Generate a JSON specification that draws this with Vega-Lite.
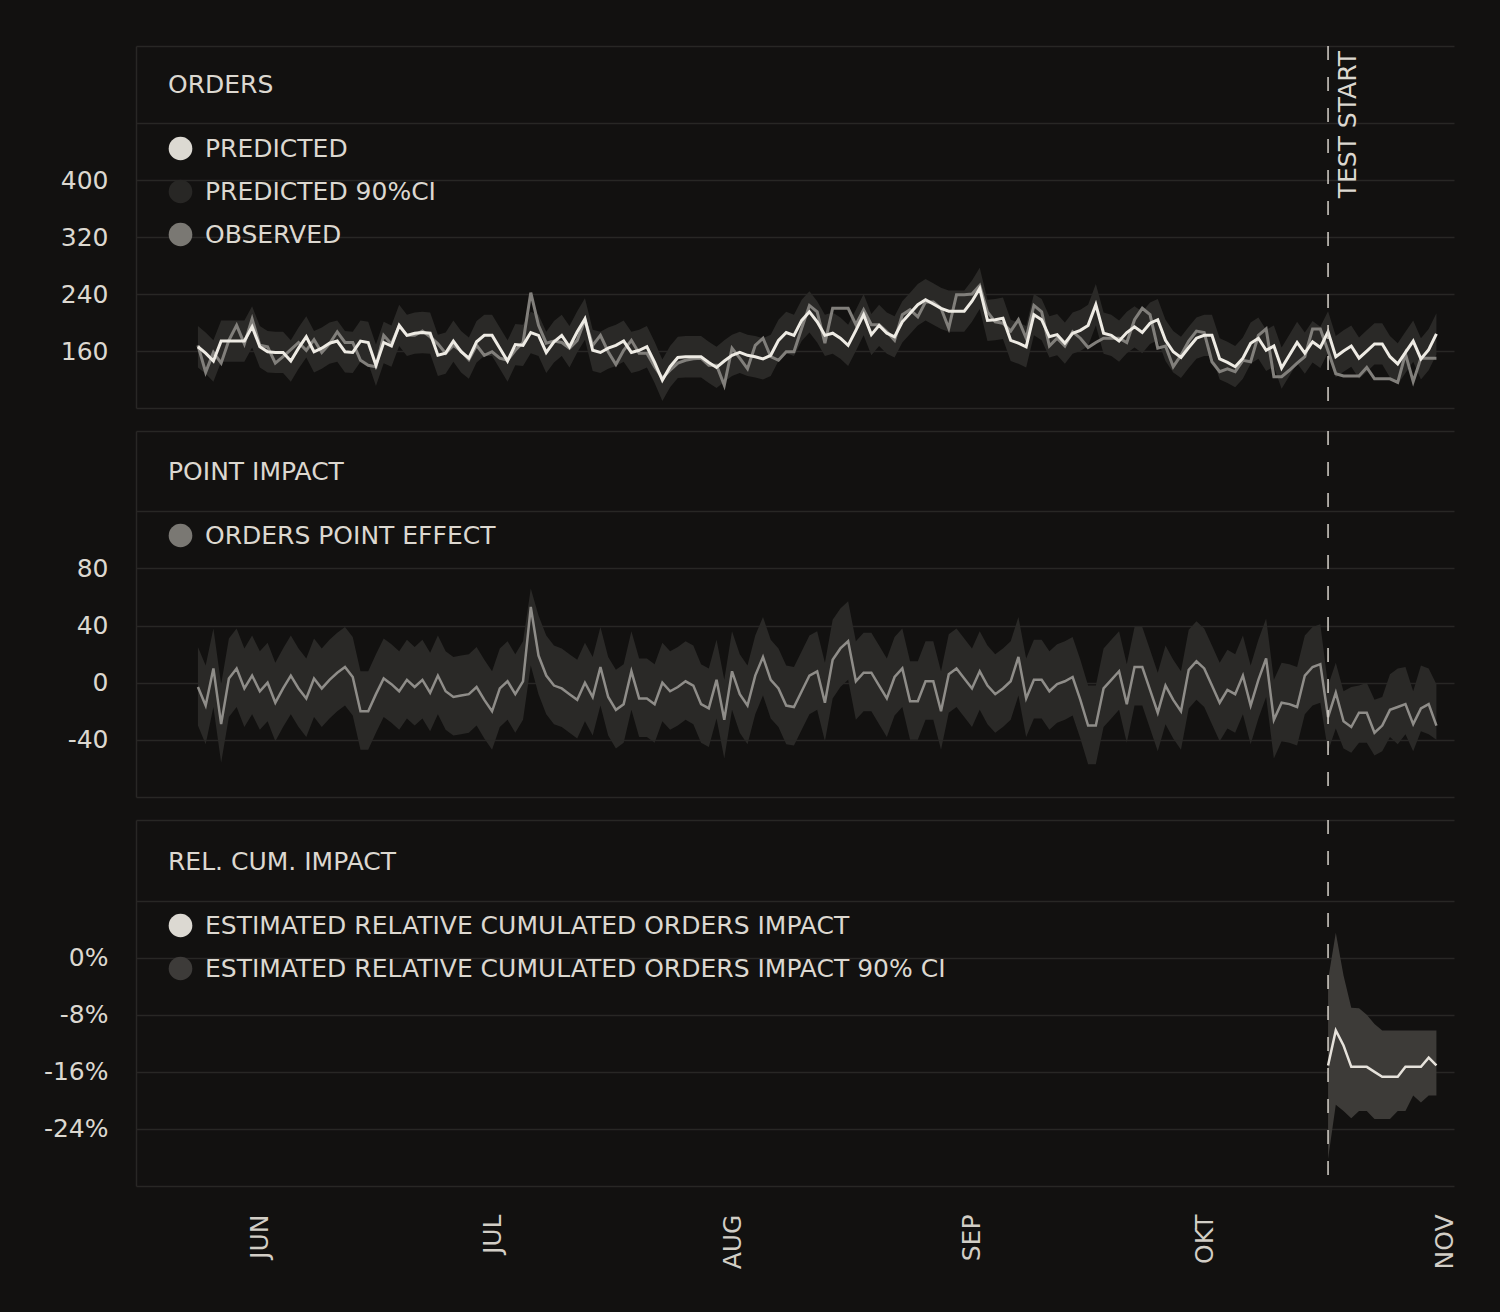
{
"$schema": "https://vega.github.io/schema/vega-lite/v6.json",
"background": "#121110",
"padding": {"top": 45, "left": 43, "right": 46, "bottom": 42},
"spacing": 21,
"config": {
 "view": {"stroke": null, "fill": "#151412"},
 "font": "DejaVu Sans",
 "axis": {"labelFont": "DejaVu Sans", "labelFontSize": 25, "labelColor": "#dcd8d0", "gridColor": "#282725", "gridWidth": 1.5, "domainColor": "#282725", "domainWidth": 1.5, "ticks": false},
 "legend": {"padding": 0, "titleFontSize": 25, "titleFontWeight": "normal", "titleColor": "#dcd8d0", "titleFont": "DejaVu Sans", "titlePadding": 38, "titleLimit": 1200, "labelFontSize": 25, "labelColor": "#dcd8d0", "labelFont": "DejaVu Sans", "labelLimit": 1300, "labelOffset": 12, "symbolType": "circle", "symbolSize": 560, "symbolStrokeWidth": 0, "rowPadding": 17}
},
"resolve": {"scale": {"color": "independent", "y": "independent"}, "legend": {"color": "independent"}},
"datasets": {
 "marker": [{"date": "2023-10-17", "label": "TEST START"}],
 "post": [
  {"date":"2023-10-17","rel":-15.1,"rlo":-28.2,"rhi":-3.1},
  {"date":"2023-10-18","rel":-10.2,"rlo":-20.6,"rhi":3.5},
  {"date":"2023-10-19","rel":-12.3,"rlo":-21.5,"rhi":-2.5},
  {"date":"2023-10-20","rel":-15.3,"rlo":-22.5,"rhi":-7.0},
  {"date":"2023-10-21","rel":-15.3,"rlo":-21.5,"rhi":-7.1},
  {"date":"2023-10-22","rel":-15.3,"rlo":-21.5,"rhi":-8.0},
  {"date":"2023-10-23","rel":-16.0,"rlo":-22.6,"rhi":-9.3},
  {"date":"2023-10-24","rel":-16.7,"rlo":-22.6,"rhi":-10.2},
  {"date":"2023-10-25","rel":-16.7,"rlo":-22.6,"rhi":-10.2},
  {"date":"2023-10-26","rel":-16.7,"rlo":-21.5,"rhi":-10.2},
  {"date":"2023-10-27","rel":-15.3,"rlo":-21.5,"rhi":-10.2},
  {"date":"2023-10-28","rel":-15.3,"rlo":-19.3,"rhi":-10.2},
  {"date":"2023-10-29","rel":-15.3,"rlo":-20.3,"rhi":-10.2},
  {"date":"2023-10-30","rel":-14.0,"rlo":-19.3,"rhi":-10.2},
  {"date":"2023-10-31","rel":-15.1,"rlo":-19.3,"rhi":-10.2}
 ],
 "main": [
  {"date":"2023-05-24","pred":166,"lo":137,"hi":195,"obs":168,"eff":-3,"elo":-30,"ehi":25},
  {"date":"2023-05-25","pred":157,"lo":128,"hi":186,"obs":130,"eff":-16,"elo":-43,"ehi":12},
  {"date":"2023-05-26","pred":146,"lo":117,"hi":175,"obs":158,"eff":10,"elo":-17,"ehi":38},
  {"date":"2023-05-27","pred":174,"lo":145,"hi":203,"obs":143,"eff":-29,"elo":-56,"ehi":-1},
  {"date":"2023-05-28","pred":174,"lo":145,"hi":203,"obs":175,"eff":3,"elo":-24,"ehi":31},
  {"date":"2023-05-29","pred":174,"lo":145,"hi":203,"obs":196,"eff":10,"elo":-17,"ehi":38},
  {"date":"2023-05-30","pred":174,"lo":145,"hi":203,"obs":170,"eff":-4,"elo":-31,"ehi":24},
  {"date":"2023-05-31","pred":194,"lo":165,"hi":223,"obs":205,"eff":5,"elo":-22,"ehi":33},
  {"date":"2023-06-01","pred":166,"lo":137,"hi":195,"obs":168,"eff":-6,"elo":-33,"ehi":22},
  {"date":"2023-06-02","pred":159,"lo":130,"hi":188,"obs":166,"eff":0,"elo":-27,"ehi":28},
  {"date":"2023-06-03","pred":158,"lo":129,"hi":187,"obs":143,"eff":-14,"elo":-41,"ehi":14},
  {"date":"2023-06-04","pred":158,"lo":129,"hi":187,"obs":152,"eff":-4,"elo":-31,"ehi":24},
  {"date":"2023-06-05","pred":146,"lo":117,"hi":175,"obs":162,"eff":5,"elo":-22,"ehi":33},
  {"date":"2023-06-06","pred":164,"lo":135,"hi":193,"obs":172,"eff":-4,"elo":-31,"ehi":24},
  {"date":"2023-06-07","pred":180,"lo":151,"hi":209,"obs":161,"eff":-11,"elo":-38,"ehi":17},
  {"date":"2023-06-08","pred":159,"lo":130,"hi":188,"obs":176,"eff":3,"elo":-24,"ehi":31},
  {"date":"2023-06-09","pred":164,"lo":135,"hi":193,"obs":158,"eff":-4,"elo":-31,"ehi":24},
  {"date":"2023-06-10","pred":171,"lo":142,"hi":200,"obs":170,"eff":2,"elo":-25,"ehi":30},
  {"date":"2023-06-11","pred":174,"lo":145,"hi":203,"obs":187,"eff":7,"elo":-20,"ehi":35},
  {"date":"2023-06-12","pred":159,"lo":130,"hi":188,"obs":172,"eff":11,"elo":-16,"ehi":39},
  {"date":"2023-06-13","pred":158,"lo":129,"hi":187,"obs":172,"eff":4,"elo":-23,"ehi":32},
  {"date":"2023-06-14","pred":174,"lo":145,"hi":203,"obs":147,"eff":-20,"elo":-47,"ehi":8},
  {"date":"2023-06-15","pred":172,"lo":143,"hi":201,"obs":140,"eff":-20,"elo":-47,"ehi":8},
  {"date":"2023-06-16","pred":140,"lo":111,"hi":169,"obs":138,"eff":-8,"elo":-35,"ehi":20},
  {"date":"2023-06-17","pred":172,"lo":143,"hi":201,"obs":182,"eff":3,"elo":-24,"ehi":31},
  {"date":"2023-06-18","pred":167,"lo":138,"hi":196,"obs":170,"eff":-1,"elo":-28,"ehi":27},
  {"date":"2023-06-19","pred":196,"lo":167,"hi":225,"obs":195,"eff":-6,"elo":-33,"ehi":22},
  {"date":"2023-06-20","pred":182,"lo":153,"hi":211,"obs":182,"eff":2,"elo":-25,"ehi":30},
  {"date":"2023-06-21","pred":185,"lo":156,"hi":214,"obs":182,"eff":-3,"elo":-30,"ehi":25},
  {"date":"2023-06-22","pred":186,"lo":157,"hi":215,"obs":188,"eff":2,"elo":-25,"ehi":30},
  {"date":"2023-06-23","pred":185,"lo":156,"hi":214,"obs":180,"eff":-7,"elo":-34,"ehi":21},
  {"date":"2023-06-24","pred":154,"lo":125,"hi":183,"obs":170,"eff":5,"elo":-22,"ehi":33},
  {"date":"2023-06-25","pred":157,"lo":128,"hi":186,"obs":157,"eff":-6,"elo":-33,"ehi":22},
  {"date":"2023-06-26","pred":174,"lo":145,"hi":203,"obs":168,"eff":-10,"elo":-37,"ehi":18},
  {"date":"2023-06-27","pred":159,"lo":130,"hi":188,"obs":160,"eff":-9,"elo":-36,"ehi":19},
  {"date":"2023-06-28","pred":150,"lo":121,"hi":179,"obs":148,"eff":-8,"elo":-35,"ehi":20},
  {"date":"2023-06-29","pred":173,"lo":144,"hi":202,"obs":168,"eff":-3,"elo":-30,"ehi":25},
  {"date":"2023-06-30","pred":182,"lo":153,"hi":211,"obs":154,"eff":-12,"elo":-39,"ehi":16},
  {"date":"2023-07-01","pred":182,"lo":153,"hi":211,"obs":159,"eff":-20,"elo":-47,"ehi":8},
  {"date":"2023-07-02","pred":164,"lo":135,"hi":193,"obs":150,"eff":-4,"elo":-31,"ehi":24},
  {"date":"2023-07-03","pred":146,"lo":117,"hi":175,"obs":147,"eff":1,"elo":-26,"ehi":29},
  {"date":"2023-07-04","pred":169,"lo":140,"hi":198,"obs":161,"eff":-8,"elo":-35,"ehi":20},
  {"date":"2023-07-05","pred":168,"lo":139,"hi":197,"obs":172,"eff":1,"elo":-26,"ehi":29},
  {"date":"2023-07-06","pred":186,"lo":157,"hi":215,"obs":242,"eff":53,"elo":12,"ehi":66},
  {"date":"2023-07-07","pred":182,"lo":153,"hi":211,"obs":196,"eff":19,"elo":-8,"ehi":47},
  {"date":"2023-07-08","pred":158,"lo":129,"hi":187,"obs":171,"eff":5,"elo":-22,"ehi":33},
  {"date":"2023-07-09","pred":173,"lo":144,"hi":202,"obs":174,"eff":-2,"elo":-29,"ehi":26},
  {"date":"2023-07-10","pred":182,"lo":153,"hi":211,"obs":172,"eff":-4,"elo":-31,"ehi":24},
  {"date":"2023-07-11","pred":166,"lo":137,"hi":195,"obs":164,"eff":-8,"elo":-35,"ehi":20},
  {"date":"2023-07-12","pred":187,"lo":158,"hi":216,"obs":175,"eff":-12,"elo":-39,"ehi":16},
  {"date":"2023-07-13","pred":205,"lo":176,"hi":234,"obs":204,"eff":0,"elo":-27,"ehi":28},
  {"date":"2023-07-14","pred":161,"lo":132,"hi":190,"obs":168,"eff":-10,"elo":-37,"ehi":18},
  {"date":"2023-07-15","pred":158,"lo":129,"hi":187,"obs":182,"eff":11,"elo":-16,"ehi":39},
  {"date":"2023-07-16","pred":164,"lo":135,"hi":193,"obs":159,"eff":-10,"elo":-37,"ehi":18},
  {"date":"2023-07-17","pred":168,"lo":139,"hi":197,"obs":141,"eff":-19,"elo":-46,"ehi":9},
  {"date":"2023-07-18","pred":174,"lo":145,"hi":203,"obs":161,"eff":-15,"elo":-42,"ehi":13},
  {"date":"2023-07-19","pred":158,"lo":129,"hi":187,"obs":175,"eff":8,"elo":-19,"ehi":36},
  {"date":"2023-07-20","pred":161,"lo":132,"hi":190,"obs":157,"eff":-11,"elo":-38,"ehi":17},
  {"date":"2023-07-21","pred":166,"lo":137,"hi":195,"obs":157,"eff":-11,"elo":-38,"ehi":17},
  {"date":"2023-07-22","pred":144,"lo":115,"hi":173,"obs":138,"eff":-15,"elo":-42,"ehi":13},
  {"date":"2023-07-23","pred":119,"lo":90,"hi":148,"obs":122,"eff":0,"elo":-27,"ehi":28},
  {"date":"2023-07-24","pred":138,"lo":109,"hi":167,"obs":133,"eff":-6,"elo":-33,"ehi":22},
  {"date":"2023-07-25","pred":151,"lo":122,"hi":180,"obs":143,"eff":-3,"elo":-30,"ehi":25},
  {"date":"2023-07-26","pred":152,"lo":123,"hi":181,"obs":147,"eff":1,"elo":-26,"ehi":29},
  {"date":"2023-07-27","pred":152,"lo":123,"hi":181,"obs":149,"eff":-2,"elo":-29,"ehi":26},
  {"date":"2023-07-28","pred":152,"lo":123,"hi":181,"obs":150,"eff":-15,"elo":-42,"ehi":13},
  {"date":"2023-07-29","pred":144,"lo":115,"hi":173,"obs":140,"eff":-18,"elo":-45,"ehi":10},
  {"date":"2023-07-30","pred":137,"lo":108,"hi":166,"obs":140,"eff":2,"elo":-25,"ehi":30},
  {"date":"2023-07-31","pred":146,"lo":117,"hi":175,"obs":112,"eff":-26,"elo":-53,"ehi":2},
  {"date":"2023-08-01","pred":154,"lo":125,"hi":183,"obs":164,"eff":8,"elo":-19,"ehi":36},
  {"date":"2023-08-02","pred":158,"lo":129,"hi":187,"obs":150,"eff":-8,"elo":-35,"ehi":20},
  {"date":"2023-08-03","pred":154,"lo":125,"hi":183,"obs":135,"eff":-16,"elo":-43,"ehi":12},
  {"date":"2023-08-04","pred":152,"lo":123,"hi":181,"obs":168,"eff":5,"elo":-22,"ehi":33},
  {"date":"2023-08-05","pred":149,"lo":120,"hi":178,"obs":178,"eff":18,"elo":-9,"ehi":46},
  {"date":"2023-08-06","pred":154,"lo":125,"hi":183,"obs":152,"eff":2,"elo":-25,"ehi":30},
  {"date":"2023-08-07","pred":175,"lo":146,"hi":204,"obs":147,"eff":-4,"elo":-31,"ehi":24},
  {"date":"2023-08-08","pred":186,"lo":157,"hi":215,"obs":159,"eff":-16,"elo":-43,"ehi":12},
  {"date":"2023-08-09","pred":182,"lo":153,"hi":211,"obs":159,"eff":-17,"elo":-44,"ehi":11},
  {"date":"2023-08-10","pred":203,"lo":174,"hi":232,"obs":192,"eff":-6,"elo":-33,"ehi":22},
  {"date":"2023-08-11","pred":215,"lo":186,"hi":244,"obs":224,"eff":5,"elo":-22,"ehi":33},
  {"date":"2023-08-12","pred":201,"lo":172,"hi":230,"obs":215,"eff":8,"elo":-19,"ehi":36},
  {"date":"2023-08-13","pred":182,"lo":153,"hi":211,"obs":171,"eff":-14,"elo":-41,"ehi":14},
  {"date":"2023-08-14","pred":185,"lo":156,"hi":214,"obs":220,"eff":16,"elo":-11,"ehi":44},
  {"date":"2023-08-15","pred":178,"lo":149,"hi":207,"obs":220,"eff":24,"elo":-3,"ehi":52},
  {"date":"2023-08-16","pred":168,"lo":139,"hi":197,"obs":220,"eff":29,"elo":2,"ehi":57},
  {"date":"2023-08-17","pred":189,"lo":160,"hi":218,"obs":197,"eff":1,"elo":-26,"ehi":29},
  {"date":"2023-08-18","pred":211,"lo":182,"hi":240,"obs":218,"eff":7,"elo":-20,"ehi":35},
  {"date":"2023-08-19","pred":183,"lo":154,"hi":212,"obs":197,"eff":7,"elo":-20,"ehi":35},
  {"date":"2023-08-20","pred":196,"lo":167,"hi":225,"obs":197,"eff":-2,"elo":-29,"ehi":26},
  {"date":"2023-08-21","pred":185,"lo":156,"hi":214,"obs":187,"eff":-11,"elo":-38,"ehi":17},
  {"date":"2023-08-22","pred":180,"lo":151,"hi":209,"obs":175,"eff":4,"elo":-23,"ehi":32},
  {"date":"2023-08-23","pred":201,"lo":172,"hi":230,"obs":211,"eff":10,"elo":-17,"ehi":38},
  {"date":"2023-08-24","pred":213,"lo":184,"hi":242,"obs":218,"eff":-13,"elo":-40,"ehi":15},
  {"date":"2023-08-25","pred":225,"lo":196,"hi":254,"obs":208,"eff":-13,"elo":-40,"ehi":15},
  {"date":"2023-08-26","pred":232,"lo":203,"hi":261,"obs":229,"eff":1,"elo":-26,"ehi":29},
  {"date":"2023-08-27","pred":226,"lo":197,"hi":255,"obs":229,"eff":1,"elo":-26,"ehi":29},
  {"date":"2023-08-28","pred":220,"lo":191,"hi":249,"obs":220,"eff":-20,"elo":-47,"ehi":8},
  {"date":"2023-08-29","pred":216,"lo":187,"hi":245,"obs":192,"eff":6,"elo":-21,"ehi":34},
  {"date":"2023-08-30","pred":216,"lo":187,"hi":245,"obs":239,"eff":10,"elo":-17,"ehi":38},
  {"date":"2023-08-31","pred":216,"lo":187,"hi":245,"obs":239,"eff":3,"elo":-24,"ehi":31},
  {"date":"2023-09-01","pred":230,"lo":201,"hi":259,"obs":240,"eff":-4,"elo":-31,"ehi":24},
  {"date":"2023-09-02","pred":248,"lo":219,"hi":277,"obs":252,"eff":8,"elo":-19,"ehi":36},
  {"date":"2023-09-03","pred":203,"lo":174,"hi":232,"obs":215,"eff":-2,"elo":-29,"ehi":26},
  {"date":"2023-09-04","pred":204,"lo":175,"hi":233,"obs":201,"eff":-8,"elo":-35,"ehi":20},
  {"date":"2023-09-05","pred":206,"lo":177,"hi":235,"obs":199,"eff":-4,"elo":-31,"ehi":24},
  {"date":"2023-09-06","pred":175,"lo":146,"hi":204,"obs":188,"eff":1,"elo":-26,"ehi":29},
  {"date":"2023-09-07","pred":171,"lo":142,"hi":200,"obs":204,"eff":18,"elo":-9,"ehi":46},
  {"date":"2023-09-08","pred":166,"lo":137,"hi":195,"obs":178,"eff":-11,"elo":-38,"ehi":17},
  {"date":"2023-09-09","pred":211,"lo":182,"hi":240,"obs":224,"eff":2,"elo":-25,"ehi":30},
  {"date":"2023-09-10","pred":204,"lo":175,"hi":233,"obs":215,"eff":2,"elo":-25,"ehi":30},
  {"date":"2023-09-11","pred":180,"lo":151,"hi":209,"obs":167,"eff":-6,"elo":-33,"ehi":22},
  {"date":"2023-09-12","pred":183,"lo":154,"hi":212,"obs":178,"eff":-1,"elo":-28,"ehi":27},
  {"date":"2023-09-13","pred":171,"lo":142,"hi":200,"obs":167,"eff":1,"elo":-26,"ehi":29},
  {"date":"2023-09-14","pred":185,"lo":156,"hi":214,"obs":187,"eff":4,"elo":-23,"ehi":32},
  {"date":"2023-09-15","pred":189,"lo":160,"hi":218,"obs":178,"eff":-12,"elo":-39,"ehi":16},
  {"date":"2023-09-16","pred":196,"lo":167,"hi":225,"obs":165,"eff":-30,"elo":-57,"ehi":-2},
  {"date":"2023-09-17","pred":225,"lo":196,"hi":254,"obs":172,"eff":-30,"elo":-57,"ehi":-2},
  {"date":"2023-09-18","pred":185,"lo":156,"hi":214,"obs":178,"eff":-4,"elo":-31,"ehi":24},
  {"date":"2023-09-19","pred":182,"lo":153,"hi":211,"obs":178,"eff":2,"elo":-25,"ehi":30},
  {"date":"2023-09-20","pred":174,"lo":145,"hi":203,"obs":178,"eff":8,"elo":-19,"ehi":36},
  {"date":"2023-09-21","pred":186,"lo":157,"hi":215,"obs":172,"eff":-15,"elo":-42,"ehi":13},
  {"date":"2023-09-22","pred":194,"lo":165,"hi":223,"obs":204,"eff":11,"elo":-16,"ehi":39},
  {"date":"2023-09-23","pred":186,"lo":157,"hi":215,"obs":220,"eff":11,"elo":-16,"ehi":39},
  {"date":"2023-09-24","pred":199,"lo":170,"hi":228,"obs":211,"eff":-5,"elo":-32,"ehi":23},
  {"date":"2023-09-25","pred":204,"lo":175,"hi":233,"obs":164,"eff":-21,"elo":-48,"ehi":7},
  {"date":"2023-09-26","pred":175,"lo":146,"hi":204,"obs":167,"eff":-2,"elo":-29,"ehi":26},
  {"date":"2023-09-27","pred":159,"lo":130,"hi":188,"obs":138,"eff":-12,"elo":-39,"ehi":16},
  {"date":"2023-09-28","pred":151,"lo":122,"hi":180,"obs":154,"eff":-20,"elo":-47,"ehi":8},
  {"date":"2023-09-29","pred":165,"lo":136,"hi":194,"obs":174,"eff":9,"elo":-18,"ehi":37},
  {"date":"2023-09-30","pred":178,"lo":149,"hi":207,"obs":188,"eff":15,"elo":-12,"ehi":43},
  {"date":"2023-10-01","pred":182,"lo":153,"hi":211,"obs":186,"eff":10,"elo":-17,"ehi":38},
  {"date":"2023-10-02","pred":182,"lo":153,"hi":211,"obs":145,"eff":-2,"elo":-29,"ehi":26},
  {"date":"2023-10-03","pred":149,"lo":120,"hi":178,"obs":131,"eff":-14,"elo":-41,"ehi":14},
  {"date":"2023-10-04","pred":144,"lo":115,"hi":173,"obs":135,"eff":-5,"elo":-32,"ehi":23},
  {"date":"2023-10-05","pred":138,"lo":109,"hi":167,"obs":131,"eff":-8,"elo":-35,"ehi":20},
  {"date":"2023-10-06","pred":150,"lo":121,"hi":179,"obs":147,"eff":5,"elo":-22,"ehi":33},
  {"date":"2023-10-07","pred":171,"lo":142,"hi":200,"obs":145,"eff":-16,"elo":-43,"ehi":12},
  {"date":"2023-10-08","pred":178,"lo":149,"hi":207,"obs":182,"eff":2,"elo":-25,"ehi":30},
  {"date":"2023-10-09","pred":161,"lo":132,"hi":190,"obs":191,"eff":17,"elo":-10,"ehi":45},
  {"date":"2023-10-10","pred":167,"lo":138,"hi":196,"obs":124,"eff":-26,"elo":-53,"ehi":2},
  {"date":"2023-10-11","pred":136,"lo":107,"hi":165,"obs":124,"eff":-14,"elo":-41,"ehi":14},
  {"date":"2023-10-12","pred":154,"lo":125,"hi":183,"obs":133,"eff":-15,"elo":-42,"ehi":13},
  {"date":"2023-10-13","pred":172,"lo":143,"hi":201,"obs":143,"eff":-17,"elo":-44,"ehi":11},
  {"date":"2023-10-14","pred":157,"lo":128,"hi":186,"obs":152,"eff":5,"elo":-22,"ehi":33},
  {"date":"2023-10-15","pred":173,"lo":144,"hi":202,"obs":191,"eff":11,"elo":-16,"ehi":39},
  {"date":"2023-10-16","pred":165,"lo":136,"hi":194,"obs":191,"eff":13,"elo":-14,"ehi":41},
  {"date":"2023-10-17","pred":187,"lo":158,"hi":216,"obs":160,"eff":-24,"elo":-48,"ehi":-2},
  {"date":"2023-10-18","pred":152,"lo":123,"hi":181,"obs":128,"eff":-7,"elo":-32,"ehi":14},
  {"date":"2023-10-19","pred":160,"lo":131,"hi":189,"obs":125,"eff":-27,"elo":-46,"ehi":-6},
  {"date":"2023-10-20","pred":167,"lo":138,"hi":196,"obs":125,"eff":-31,"elo":-49,"ehi":-3},
  {"date":"2023-10-21","pred":150,"lo":121,"hi":179,"obs":125,"eff":-21,"elo":-42,"ehi":-2},
  {"date":"2023-10-22","pred":160,"lo":131,"hi":189,"obs":137,"eff":-21,"elo":-42,"ehi":0},
  {"date":"2023-10-23","pred":170,"lo":141,"hi":199,"obs":121,"eff":-35,"elo":-51,"ehi":-12},
  {"date":"2023-10-24","pred":170,"lo":141,"hi":199,"obs":121,"eff":-30,"elo":-48,"ehi":-10},
  {"date":"2023-10-25","pred":152,"lo":123,"hi":181,"obs":121,"eff":-19,"elo":-38,"ehi":6},
  {"date":"2023-10-26","pred":142,"lo":113,"hi":171,"obs":116,"eff":-17,"elo":-43,"ehi":10},
  {"date":"2023-10-27","pred":158,"lo":129,"hi":187,"obs":156,"eff":-15,"elo":-36,"ehi":11},
  {"date":"2023-10-28","pred":174,"lo":145,"hi":203,"obs":117,"eff":-29,"elo":-48,"ehi":-6},
  {"date":"2023-10-29","pred":149,"lo":120,"hi":178,"obs":150,"eff":-18,"elo":-34,"ehi":12},
  {"date":"2023-10-30","pred":162,"lo":133,"hi":191,"obs":150,"eff":-15,"elo":-36,"ehi":10},
  {"date":"2023-10-31","pred":184,"lo":155,"hi":213,"obs":150,"eff":-30,"elo":-40,"ehi":-1}
 ]
},
"vconcat": [
 {
  "width": 1318, "height": 362,
  "data": {"name": "main"},
  "layer": [
   {"mark": {"type": "area", "color": "#2a2927", "opacity": 1},
    "encoding": {
     "x": {"field": "date", "type": "temporal", "scale": {"type": "utc", "domain": [{"year":2023,"month":5,"date":16,"utc":true},{"year":2023,"month":11,"date":2,"hours":6,"minutes":30,"utc":true}]}, "axis": null},
     "y": {"field": "lo", "type": "quantitative", "scale": {"domain": [80, 588.3], "nice": false, "zero": false},
       "axis": {"title": null, "values": [80, 160, 240, 320, 400, 480, 588.3], "labelExpr": "datum.value >= 160 && datum.value <= 400 ? datum.value + '' : ''", "grid": true, "domain": true, "labelPadding": 28}},
     "y2": {"field": "hi"}}},
   {"mark": {"type": "line", "color": "#817f7b", "strokeWidth": 3},
    "encoding": {"x": {"field": "date", "type": "temporal", "axis": null}, "y": {"field": "obs", "type": "quantitative"}}},
   {"mark": {"type": "line", "color": "#eeebe4", "strokeWidth": 3},
    "encoding": {"x": {"field": "date", "type": "temporal", "axis": null}, "y": {"field": "pred", "type": "quantitative"}}},
   {"data": {"name": "marker"},
    "mark": {"type": "rule", "color": "#d6d2ca", "strokeWidth": 1.5, "strokeDash": [14, 17]},
    "encoding": {"x": {"field": "date", "type": "temporal", "axis": null}}},
   {"data": {"name": "marker"},
    "mark": {"type": "text", "angle": 270, "align": "right", "baseline": "top", "dx": -5, "dy": 8, "fontSize": 25, "font": "DejaVu Sans", "color": "#dcd8d0"},
    "encoding": {"x": {"field": "date", "type": "temporal", "axis": null}, "y": {"datum": 588.3}, "text": {"field": "label"}}},
   {"mark": {"type": "circle", "opacity": 1},
    "transform": [{"filter": "false"}],
    "encoding": {"color": {"field": "series", "type": "nominal",
      "scale": {"domain": ["PREDICTED", "PREDICTED 90%CI", "OBSERVED"], "range": ["#dcd9d2", "#282725", "#7a7873"]},
      "legend": {"title": "ORDERS", "orient": "none", "legendX": 32, "legendY": 27, "direction": "vertical"}}}}
  ]
 },
 {
  "width": 1318, "height": 366,
  "data": {"name": "main"},
  "layer": [
   {"mark": {"type": "area", "color": "#2a2927", "opacity": 1},
    "encoding": {
     "x": {"field": "date", "type": "temporal", "scale": {"type": "utc", "domain": [{"year":2023,"month":5,"date":16,"utc":true},{"year":2023,"month":11,"date":2,"hours":6,"minutes":30,"utc":true}]}, "axis": null},
     "y": {"field": "elo", "type": "quantitative", "scale": {"domain": [-80, 176.2], "nice": false, "zero": false},
       "axis": {"title": null, "values": [-80, -40, 0, 40, 80, 120, 176.2], "labelExpr": "datum.value >= -40 && datum.value <= 80 ? datum.value + '' : ''", "grid": true, "domain": true, "labelPadding": 28}},
     "y2": {"field": "ehi"}}},
   {"mark": {"type": "line", "color": "#8f8d89", "strokeWidth": 2.5},
    "encoding": {"x": {"field": "date", "type": "temporal", "axis": null}, "y": {"field": "eff", "type": "quantitative"}}},
   {"data": {"name": "marker"},
    "mark": {"type": "rule", "color": "#d6d2ca", "strokeWidth": 1.5, "strokeDash": [14, 17]},
    "encoding": {"x": {"field": "date", "type": "temporal", "axis": null}}},
   {"mark": {"type": "circle", "opacity": 1},
    "transform": [{"filter": "false"}],
    "encoding": {"color": {"field": "series", "type": "nominal",
      "scale": {"domain": ["ORDERS POINT EFFECT"], "range": ["#7a7873"]},
      "legend": {"title": "POINT IMPACT", "orient": "none", "legendX": 32, "legendY": 29, "direction": "vertical"}}}}
  ]
 },
 {
  "width": 1318, "height": 366,
  "layer": [
   {"data": {"name": "post"},
    "mark": {"type": "area", "color": "#3d3b38", "opacity": 1},
    "encoding": {
     "x": {"field": "date", "type": "temporal", "scale": {"type": "utc", "domain": [{"year":2023,"month":5,"date":16,"utc":true},{"year":2023,"month":11,"date":2,"hours":6,"minutes":30,"utc":true}]},
       "axis": {"title": null, "values": [{"year":2023,"month":6,"date":1,"utc":true},{"year":2023,"month":7,"date":1,"utc":true},{"year":2023,"month":8,"date":1,"utc":true},{"year":2023,"month":9,"date":1,"utc":true},{"year":2023,"month":10,"date":1,"utc":true},{"year":2023,"month":11,"date":1,"utc":true}],
         "labelExpr": "['JAN','FEB','MÄR','APR','MAI','JUN','JUL','AUG','SEP','OKT','NOV','DEZ'][utcmonth(datum.value)]",
         "labelAngle": 270, "labelAlign": "right", "labelBaseline": "middle", "labelPadding": 28, "labelFlush": false, "grid": false, "domain": false, "ticks": false, "labelColor": "#d2cec6"}},
     "y": {"field": "rlo", "type": "quantitative", "scale": {"domain": [-32, 19.3], "nice": false, "zero": false},
       "axis": {"title": null, "values": [-32, -24, -16, -8, 0, 8, 19.3], "labelExpr": "datum.value >= -24 && datum.value <= 0 ? datum.value + '%' : ''", "grid": true, "domain": true, "labelPadding": 28}},
     "y2": {"field": "rhi"}}},
   {"data": {"name": "post"},
    "mark": {"type": "line", "color": "#e6e2db", "strokeWidth": 2.5},
    "encoding": {"x": {"field": "date", "type": "temporal"}, "y": {"field": "rel", "type": "quantitative"}}},
   {"data": {"name": "marker"},
    "mark": {"type": "rule", "color": "#d6d2ca", "strokeWidth": 1.5, "strokeDash": [14, 17]},
    "encoding": {"x": {"field": "date", "type": "temporal"}}},
   {"data": {"name": "post"},
    "mark": {"type": "circle", "opacity": 1},
    "transform": [{"filter": "false"}],
    "encoding": {"color": {"field": "series", "type": "nominal",
      "scale": {"domain": ["ESTIMATED RELATIVE CUMULATED ORDERS IMPACT", "ESTIMATED RELATIVE CUMULATED ORDERS IMPACT 90% CI"], "range": ["#dcd9d2", "#3d3b39"]},
      "legend": {"title": "REL. CUM. IMPACT", "orient": "none", "legendX": 32, "legendY": 30, "direction": "vertical"}}}}
  ]
 }
]
}
